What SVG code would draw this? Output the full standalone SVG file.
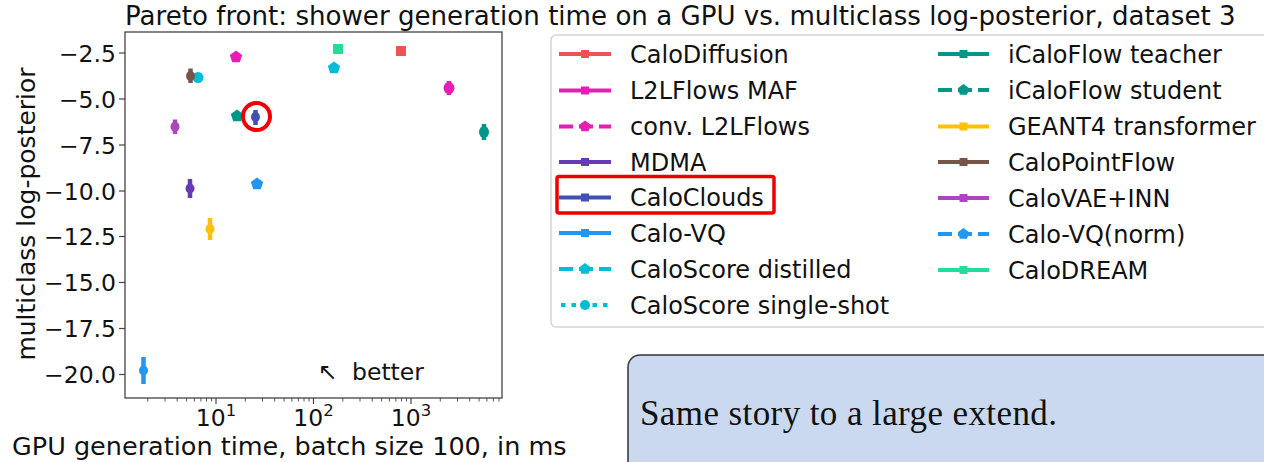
<svg xmlns="http://www.w3.org/2000/svg" xmlns:xlink="http://www.w3.org/1999/xlink" width="1264" height="462" viewBox="0 0 1264 462">
<style>
text{font-family:"DejaVu Sans","Liberation Sans",sans-serif;fill:#111}
.title{font-size:26.1px}
.lab{font-size:25.5px}
.ylab{font-size:25px}
.tick{font-size:23.5px}
.sup{font-size:16.5px}
.leg{font-size:24px}
.ax{stroke:#444;stroke-width:1.3;fill:none}
.tk{stroke:#444;stroke-width:1.2}
.mt{stroke:#444;stroke-width:0.9}
.lline{stroke-width:4;fill:none}
.eb{stroke-width:4.5;stroke-linecap:butt}
.dash{stroke-dasharray:14 6}
.dot{stroke-dasharray:4.5 6}
.serif{font-family:"Liberation Serif","DejaVu Serif",serif;font-size:35px;fill:#111}
</style>
<defs>
<path id="pent" d="M0,-6.5 L6.18,-2.01 L3.82,5.26 L-3.82,5.26 L-6.18,-2.01Z"/>
<path id="pents" d="M0,-6 L5.71,-1.85 L3.53,4.85 L-3.53,4.85 L-5.71,-1.85Z"/>
</defs>
<rect width="1264" height="462" fill="#fff"/>

<text class="title" x="125" y="25">Pareto front: shower generation time on a GPU vs. multiclass log-posterior, dataset 3</text>

<g id="axes">
<rect class="ax" x="125" y="32" width="377" height="366"/>
<g id="yticks">
<line class="tk" x1="119" y1="53" x2="125" y2="53"/>
<line class="tk" x1="119" y1="99" x2="125" y2="99"/>
<line class="tk" x1="119" y1="145" x2="125" y2="145"/>
<line class="tk" x1="119" y1="191" x2="125" y2="191"/>
<line class="tk" x1="119" y1="236.5" x2="125" y2="236.5"/>
<line class="tk" x1="119" y1="282.5" x2="125" y2="282.5"/>
<line class="tk" x1="119" y1="328.5" x2="125" y2="328.5"/>
<line class="tk" x1="119" y1="374.5" x2="125" y2="374.5"/>
<text class="tick" x="116" y="61.5" text-anchor="end">−2.5</text>
<text class="tick" x="116" y="107.5" text-anchor="end">−5.0</text>
<text class="tick" x="116" y="153.5" text-anchor="end">−7.5</text>
<text class="tick" x="116" y="199.5" text-anchor="end">−10.0</text>
<text class="tick" x="116" y="245" text-anchor="end">−12.5</text>
<text class="tick" x="116" y="291" text-anchor="end">−15.0</text>
<text class="tick" x="116" y="337" text-anchor="end">−17.5</text>
<text class="tick" x="116" y="383" text-anchor="end">−20.0</text>
</g>
<g id="xticks">
<line class="tk" x1="216" y1="398" x2="216" y2="404"/>
<line class="tk" x1="313.5" y1="398" x2="313.5" y2="404"/>
<line class="tk" x1="411" y1="398" x2="411" y2="404"/>
<path class="mt" d="M147.8,398v3.5M165,398v3.5M177.2,398v3.5M186.6,398v3.5M194.4,398v3.5M200.9,398v3.5M206.5,398v3.5M211.6,398v3.5M245.3,398v3.5M262.5,398v3.5M274.7,398v3.5M284.1,398v3.5M291.9,398v3.5M298.4,398v3.5M304,398v3.5M309,398v3.5M342.8,398v3.5M360,398v3.5M372.2,398v3.5M381.6,398v3.5M389.4,398v3.5M395.9,398v3.5M401.5,398v3.5M406.5,398v3.5M440.3,398v3.5M457.5,398v3.5M469.7,398v3.5M479.1,398v3.5M486.9,398v3.5M493.4,398v3.5M499,398v3.5"/>
<text class="tick" x="216" y="426" text-anchor="middle">10<tspan class="sup" dy="-10">1</tspan></text>
<text class="tick" x="313.5" y="426" text-anchor="middle">10<tspan class="sup" dy="-10">2</tspan></text>
<text class="tick" x="411" y="426" text-anchor="middle">10<tspan class="sup" dy="-10">3</tspan></text>
</g>
<text class="lab" x="12" y="455">GPU generation time, batch size 100, in ms</text>
<text class="ylab" transform="translate(35,214) rotate(-90)" text-anchor="middle">multiclass log-posterior</text>
<text class="tick" x="318" y="380">↖<tspan x="352">better</tspan></text>
</g>

<g id="data">
<rect x="396" y="46" width="10" height="10" fill="#ef5350"/>
<rect x="333" y="44" width="10" height="10" fill="#22dd99"/>
<use xlink:href="#pent" x="334" y="68" fill="#00bcd4"/>
<g fill="#e61eb4" stroke="#e61eb4"><line class="eb" x1="449" y1="81" x2="449" y2="95"/><ellipse cx="449" cy="88" rx="5.5" ry="6" stroke="none"/></g>
<g fill="#009688" stroke="#009688"><line class="eb" x1="484" y1="124" x2="484" y2="140"/><ellipse cx="484" cy="132" rx="5" ry="6" stroke="none"/></g>
<g fill="#3f51b5" stroke="#3f51b5"><line class="eb" x1="255.5" y1="110" x2="255.5" y2="125"/><ellipse cx="255.5" cy="117" rx="4.5" ry="5" stroke="none"/></g>
<use xlink:href="#pent" x="257" y="184" fill="#2196f3"/>
<use xlink:href="#pent" x="237" y="116" fill="#009688"/>
<use xlink:href="#pent" x="236" y="57" fill="#e61eb4"/>
<circle cx="198" cy="77.5" r="5.5" fill="#00bcd4"/>
<g fill="#795548" stroke="#795548"><line class="eb" x1="190.5" y1="68.5" x2="190.5" y2="83"/><ellipse cx="190.5" cy="76" rx="4.5" ry="5" stroke="none"/></g>
<g fill="#ab47bc" stroke="#ab47bc"><line class="eb" x1="175" y1="119.5" x2="175" y2="134"/><ellipse cx="175" cy="126.7" rx="4.5" ry="5" stroke="none"/></g>
<g fill="#673ab7" stroke="#673ab7"><line class="eb" x1="190" y1="179" x2="190" y2="198"/><ellipse cx="190" cy="188.5" rx="4.5" ry="5" stroke="none"/></g>
<g fill="#ffc107" stroke="#ffc107"><line class="eb" x1="210" y1="218" x2="210" y2="240"/><ellipse cx="210" cy="229" rx="4.5" ry="5" stroke="none"/></g>
<g fill="#2196f3" stroke="#2196f3"><line class="eb" x1="143.5" y1="357" x2="143.5" y2="384"/><ellipse cx="143.5" cy="370.5" rx="4.5" ry="5" stroke="none"/></g>
<circle cx="256.5" cy="116.5" r="13.5" fill="none" stroke="#ee0000" stroke-width="4"/>
</g>

<g id="legend">
<rect x="551" y="35" width="740" height="292" rx="5" fill="#fff" stroke="#d4d4d4" stroke-width="1.5"/>
<g id="leg-calodiffusion"><line class="lline" x1="559" y1="54" x2="611" y2="54" stroke="#ef5350"/><rect x="581" y="50" width="8" height="8" fill="#ef5350"/><text class="leg" x="630" y="62.5">CaloDiffusion</text></g>
<g id="leg-l2lmaf"><line class="lline" x1="559" y1="90.5" x2="611" y2="90.5" stroke="#e61eb4"/><rect x="581" y="86.5" width="8" height="8" fill="#e61eb4"/><text class="leg" x="630" y="99">L2LFlows MAF</text></g>
<g id="leg-convl2l"><line class="lline dash" x1="559" y1="126.5" x2="611" y2="126.5" stroke="#e61eb4"/><use xlink:href="#pents" x="585" y="126.5" fill="#e61eb4"/><text class="leg" x="630" y="135">conv. L2LFlows</text></g>
<g id="leg-mdma"><line class="lline" x1="559" y1="162" x2="611" y2="162" stroke="#673ab7"/><rect x="581" y="158" width="8" height="8" fill="#673ab7"/><text class="leg" x="630" y="170.5">MDMA</text></g>
<g id="leg-caloclouds"><line class="lline" x1="559" y1="197.5" x2="611" y2="197.5" stroke="#3f51b5"/><rect x="581" y="193.5" width="8" height="8" fill="#3f51b5"/><text class="leg" x="630" y="206">CaloClouds</text>
<rect x="557" y="176.5" width="217" height="36.5" rx="2" fill="none" stroke="#ee0000" stroke-width="3.5"/></g>
<g id="leg-calovq"><line class="lline" x1="559" y1="233" x2="611" y2="233" stroke="#2196f3"/><rect x="581" y="229" width="8" height="8" fill="#2196f3"/><text class="leg" x="630" y="241.5">Calo-VQ</text></g>
<g id="leg-csdist"><line class="lline dash" x1="559" y1="269" x2="611" y2="269" stroke="#00bcd4"/><use xlink:href="#pents" x="585" y="269" fill="#00bcd4"/><text class="leg" x="630" y="277.5">CaloScore distilled</text></g>
<g id="leg-csss"><line class="lline dot" x1="561" y1="305" x2="611" y2="305" stroke="#00bcd4"/><circle cx="585" cy="305" r="5" fill="#00bcd4"/><text class="leg" x="630" y="313.5">CaloScore single-shot</text></g>

<g id="leg-icfteacher"><line class="lline" x1="938" y1="54" x2="989" y2="54" stroke="#009688"/><rect x="959.5" y="50" width="8" height="8" fill="#009688"/><text class="leg" x="1008" y="62.5">iCaloFlow teacher</text></g>
<g id="leg-icfstudent"><line class="lline dash" x1="938" y1="90" x2="989" y2="90" stroke="#009688"/><use xlink:href="#pents" x="963.5" y="90" fill="#009688"/><text class="leg" x="1008" y="98.5">iCaloFlow student</text></g>
<g id="leg-geant4"><line class="lline" x1="938" y1="126.5" x2="989" y2="126.5" stroke="#ffc107"/><rect x="959.5" y="122.5" width="8" height="8" fill="#ffc107"/><text class="leg" x="1008" y="135">GEANT4 transformer</text></g>
<g id="leg-cpf"><line class="lline" x1="938" y1="162" x2="989" y2="162" stroke="#795548"/><rect x="959.5" y="158" width="8" height="8" fill="#795548"/><text class="leg" x="1008" y="170.5">CaloPointFlow</text></g>
<g id="leg-cvae"><line class="lline" x1="938" y1="198" x2="989" y2="198" stroke="#ab47bc"/><rect x="959.5" y="194" width="8" height="8" fill="#ab47bc"/><text class="leg" x="1008" y="206.5">CaloVAE+INN</text></g>
<g id="leg-cvqnorm"><line class="lline dash" x1="938" y1="234" x2="989" y2="234" stroke="#2196f3"/><use xlink:href="#pents" x="963.5" y="234" fill="#2196f3"/><text class="leg" x="1008" y="242.5">Calo-VQ(norm)</text></g>
<g id="leg-dream"><line class="lline" x1="938" y1="270" x2="989" y2="270" stroke="#22dd99"/><rect x="959.5" y="266" width="8" height="8" fill="#22dd99"/><text class="leg" x="1008" y="278.5">CaloDREAM</text></g>
</g>

<g id="note">
<rect x="628" y="355" width="700" height="160" rx="12" fill="#cad9ef" stroke="#333" stroke-width="1.5"/>
<text class="serif" x="640" y="425" textLength="417" lengthAdjust="spacing">Same story to a large extend.</text>
</g>
</svg>
